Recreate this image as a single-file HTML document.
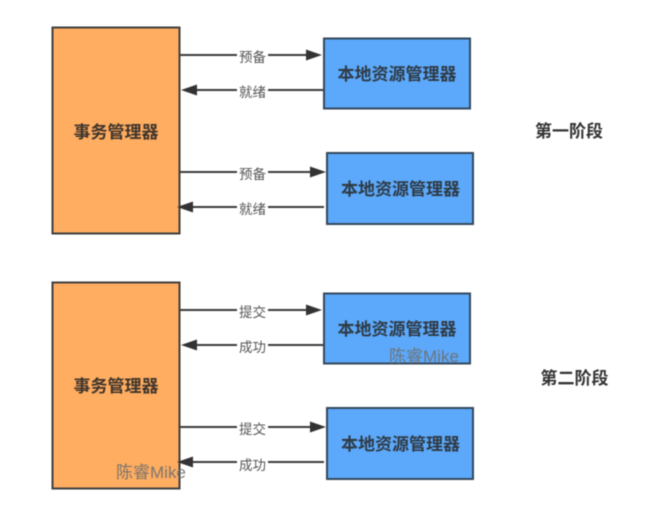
<!DOCTYPE html>
<html><head><meta charset="utf-8">
<style>
html,body{margin:0;padding:0;background:#fff;width:670px;height:519px;overflow:hidden}
svg{display:block;filter:blur(0.4px)}
text{font-family:"Liberation Sans","Noto Sans CJK SC",sans-serif}
.b{font-size:17px;font-weight:700;fill:#2f3a45;text-anchor:middle}
.o2{fill:#40352c}
.h{font-size:17px;font-weight:700;fill:#333;text-anchor:middle}
.l{font-size:13.500px;fill:#555;text-anchor:middle}
.w{font-size:17px;fill:#6f6f6f;opacity:.9}
rect.o{fill:#ffad60;stroke:#3f3f3f;stroke-width:2}
rect.s{fill:#5ca9fb;stroke:#34495e;stroke-width:2}
line{stroke:#3c3c3c;stroke-width:2}
polygon{fill:#333}
rect.m{fill:#fff;stroke:none}
</style></head><body>
<svg width="670" height="519" viewBox="0 0 670 519" xmlns="http://www.w3.org/2000/svg">
<rect class="o" x="52.500" y="27.500" width="127" height="206"/>
<rect class="o" x="52.500" y="282.500" width="127" height="206"/>
<text class="b o2" x="116" y="138">事务管理器</text>
<text class="b o2" x="116" y="392">事务管理器</text>

<rect class="s" x="324" y="38.500" width="146" height="70"/>
<rect class="s" x="327" y="153" width="146" height="71"/>
<rect class="s" x="324" y="293.500" width="146" height="70"/>
<rect class="s" x="327" y="408" width="146" height="71"/>
<text class="b" x="397" y="80">本地资源管理器</text>
<text class="b" x="400.500" y="195">本地资源管理器</text>
<text class="b" x="397" y="335">本地资源管理器</text>
<text class="b" x="400.500" y="450">本地资源管理器</text>

<line x1="180" y1="55" x2="310" y2="55"/><polygon points="322,55 306,49.500 306,60.500"/>
<line x1="195" y1="90" x2="323" y2="90"/><polygon points="181,90 197,84.500 197,95.500"/>
<line x1="180" y1="172" x2="314" y2="172"/><polygon points="326,172 310,166.500 310,177.500"/>
<line x1="190" y1="207" x2="324" y2="207"/><polygon points="177,207 193,201.500 193,212.500"/>
<line x1="180" y1="310" x2="310" y2="310"/><polygon points="322,310 306,304.500 306,315.500"/>
<line x1="195" y1="345" x2="323" y2="345"/><polygon points="181,345 197,339.500 197,350.500"/>
<line x1="180" y1="427" x2="314" y2="427"/><polygon points="326,427 310,421.500 310,432.500"/>
<line x1="190" y1="462" x2="324" y2="462"/><polygon points="177,462 193,456.500 193,467.500"/>

<rect class="m" x="237" y="46" width="31" height="18"/>
<rect class="m" x="237" y="81" width="31" height="18"/>
<rect class="m" x="237" y="163" width="31" height="18"/>
<rect class="m" x="237" y="198" width="31" height="18"/>
<rect class="m" x="237" y="301" width="31" height="18"/>
<rect class="m" x="237" y="336" width="31" height="18"/>
<rect class="m" x="237" y="418" width="31" height="18"/>
<rect class="m" x="237" y="453" width="31" height="18"/>
<text class="l" x="252.500" y="62">预备</text>
<text class="l" x="252.500" y="97">就绪</text>
<text class="l" x="252.500" y="179">预备</text>
<text class="l" x="252.500" y="214">就绪</text>
<text class="l" x="252.500" y="317">提交</text>
<text class="l" x="252.500" y="352">成功</text>
<text class="l" x="252.500" y="434">提交</text>
<text class="l" x="252.500" y="470">成功</text>

<text class="h" x="569" y="137">第一阶段</text>
<text class="h" x="574.500" y="384">第二阶段</text>

<text class="w" x="389" y="362">陈睿Mike</text>
<text class="w" x="116" y="478">陈睿Mike</text>
</svg>
</body></html>
